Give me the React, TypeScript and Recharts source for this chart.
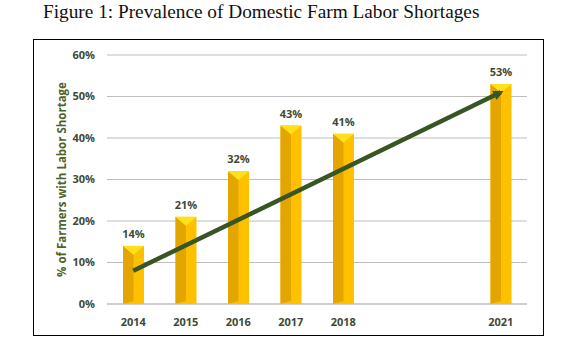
import { BarChart, Bar, Line, XAxis, YAxis, CartesianGrid, LabelList, Label } from "recharts";

const years = ["2014", "2015", "2016", "2017", "2018", "2019", "2020", "2021"];
const shortage: (number | null)[] = [14, 21, 32, 43, 41, null, null, 53];
const trend: (number | null)[] = [8, null, null, null, null, null, null, 51];
const yTicks = [0, 10, 20, 30, 40, 50, 60];
const shownYears = ["2014", "2015", "2016", "2017", "2018", "2021"];

const data = years.map((y, i) => ({ year: y, value: shortage[i], trend: trend[i] }));

const GREEN = "#375623";
const TEXT = "#3e4a34";

function BevelBar(props: any) {
  const { x, y, width, height } = props;
  if (height == null || height <= 0) return null;
  const mid = x + width / 2;
  const cap = width * 0.42;
  return (
    <g>
      <rect x={x} y={y} width={width} height={height} fill="#FFC000" />
      <polygon points={`${x},${y} ${mid},${y + cap} ${mid},${y + height - 3} ${x},${y + height}`} fill="#E3A600" />
      <polygon points={`${x},${y} ${x + width},${y} ${mid},${y + cap}`} fill="#FFE11A" />
    </g>
  );
}

export default function App() {
  return (
    <div style={{ position: "absolute", left: 0, top: 0, width: 575, height: 357, background: "#fff" }}>
      <div
        style={{
          position: "absolute",
          left: 43,
          top: 1,
          fontFamily: "'Liberation Serif', serif",
          fontSize: 19.3,
          color: "#111",
          whiteSpace: "nowrap",
        }}
      >
        Figure 1: Prevalence of Domestic Farm Labor Shortages
      </div>
      <div
        style={{
          position: "absolute",
          left: 33,
          top: 39,
          width: 509,
          height: 295,
          border: "1px solid #000",
        }}
      />
      <div style={{ position: "absolute", left: 0, top: 0 }}>
        <BarChart
          width={575}
          height={357}
          data={data}
          margin={{ top: 55, right: 48, bottom: 23, left: 47 }}
        >
          <defs>
            <marker id="arrow" viewBox="0 0 10 10" refX="7" refY="5" markerWidth="11" markerHeight="10" markerUnits="userSpaceOnUse" orient="auto">
              <path d="M0,0 L10,5 L0,10 z" fill={GREEN} />
            </marker>
          </defs>
          <CartesianGrid vertical={false} stroke="#bdbdbd" strokeWidth={1.2} />
          <XAxis
            dataKey="year"
            axisLine={{ stroke: "#bdbdbd", strokeWidth: 1.2 }}
            tickLine={false}
            interval={0}
            tickMargin={8}
            height={30}
            tickFormatter={(v) => (shownYears.includes(v) ? v : "")}
            tick={{ fill: TEXT, fontSize: 11, fontWeight: 700, fontFamily: "'Open Sans', sans-serif" }}
          />
          <YAxis
            domain={[0, 60]}
            ticks={yTicks}
            width={60}
            axisLine={false}
            tickLine={false}
            tickMargin={6}
            tickFormatter={(v) => `${v}%`}
            tick={{ fill: TEXT, fontSize: 11, fontWeight: 700, fontFamily: "'Open Sans', sans-serif" }}
          >
            <Label
              value="% of Farmers with Labor Shortage"
              angle={-90}
              position="insideLeft"
              offset={15}
              style={{ fill: "#4f6228", fontSize: 11.5, fontWeight: 700, fontFamily: "'Open Sans', sans-serif", textAnchor: "middle" }}
            />
          </YAxis>
          <Bar dataKey="value" barSize={21} shape={<BevelBar />} isAnimationActive={false}>
            <LabelList
              dataKey="value"
              position="top"
              offset={8}
              formatter={(v: any) => (v == null ? "" : `${v}%`)}
              style={{ fill: TEXT, fontSize: 11, fontWeight: 700, fontFamily: "'Open Sans', sans-serif" }}
            />
          </Bar>
          <Line
            dataKey="trend"
            type="linear"
            connectNulls
            stroke={GREEN}
            strokeWidth={4.5}
            dot={false}
            activeDot={false}
            markerEnd="url(#arrow)"
            isAnimationActive={false}
          />
        </BarChart>
      </div>
    </div>
  );
}
